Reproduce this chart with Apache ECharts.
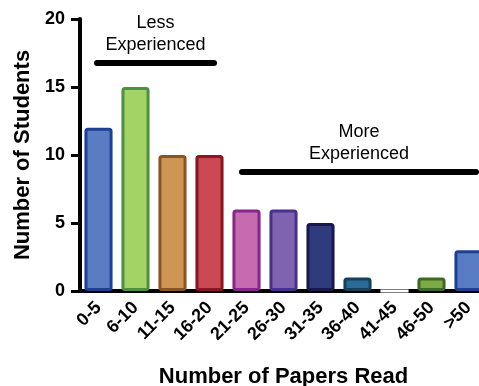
<!DOCTYPE html>
<html>
<head>
<meta charset="utf-8">
<script src="https://cdn.jsdelivr.net/npm/echarts@6/dist/echarts.min.js"></script>
<style>html,body{margin:0;padding:0;background:#fff}#c{width:479px;height:386px}</style>
</head>
<body>
<div id="c"></div>
<script>
const categories = ['0-5','6-10','11-15','16-20','21-25','26-30','31-35','36-40','41-45','46-50','>50'];
const students = [12, 15, 10, 10, 6, 6, 5, 1, 0, 1, 3];
const fills = ['#5a7cc4','#a4d365','#cf9552','#cc4853','#c66bb0','#7f62b0','#2f3b7c','#2a6c98','#ffffff','#7da845','#5a7cc4'];
const borders = ['#1f3f92','#4e9040','#8a5524','#8c1524','#86258a','#48308e','#18184e','#163f5c','#ffffff','#3a6a24','#1f3f92'];
const yTicks = [0, 5, 10, 15, 20];
const groupLabels = ['Less\nExperienced', 'More\nExperienced'];
const groupLevels = [16.8, 8.8];

const chart = echarts.init(document.getElementById('c'), null, {renderer:'canvas'});
const font = 'Liberation Sans, Arial, Helvetica, sans-serif';
chart.setOption({
  animation: false,
  grid: {left: 80, right: -8, top: 19, bottom: 95, containLabel: false, outerBoundsMode: 'none'},
  xAxis: {
    type: 'category',
    data: categories,
    name: 'Number of Papers Read',
    nameLocation: 'middle',
    nameGap: 75,
    nameTextStyle: {fontFamily: font, fontWeight: 'bold', fontSize: 22, color: '#000'},
    axisLine: {lineStyle: {color: '#000', width: 4}},
    axisTick: {alignWithLabel: true, length: 8, lineStyle: {color: '#000', width: 3}},
    axisLabel: {rotate: 45, fontFamily: font, fontWeight: 'bold', fontSize: 18, color: '#000', margin: 14, interval: 0}
  },
  yAxis: {
    type: 'value',
    min: 0, max: 20, interval: 5,
    name: 'Number of Students',
    nameLocation: 'middle',
    nameGap: 46,
    nameTextStyle: {fontFamily: font, fontWeight: 'bold', fontSize: 22, color: '#000'},
    axisLine: {show: true, lineStyle: {color: '#000', width: 4}},
    axisTick: {show: true, length: 9, lineStyle: {color: '#000', width: 3}},
    axisLabel: {fontFamily: font, fontWeight: 'bold', fontSize: 18, color: '#000', margin: 15,
      formatter: v => yTicks.includes(v) ? String(v) : ''},
    splitLine: {show: false}
  },
  series: [{
    type: 'bar',
    barWidth: '76%',
    data: students.map((v, i) => ({value: v, itemStyle: {color: fills[i], borderColor: borders[i], borderWidth: 3, borderRadius: 2}})),
    markLine: {
      symbol: 'none',
      silent: true,
      lineStyle: {color: '#000', width: 6, type: 'solid', cap: 'round'},
      label: {show: true, position: 'middle', formatter: p => p.name, fontFamily: font, fontSize: 18, color: '#000', lineHeight: 22, distance: 6},
      data: [
        [{name: groupLabels[0], coord: [categories[0], groupLevels[0]], x: 97}, {coord: [categories[3], groupLevels[0]], x: 214}],
        [{name: groupLabels[1], coord: [categories[4], groupLevels[1]], x: 242}, {coord: [categories[10], groupLevels[1]], x: 476}]
      ]
    }
  }]
});
</script>
</body>
</html>
